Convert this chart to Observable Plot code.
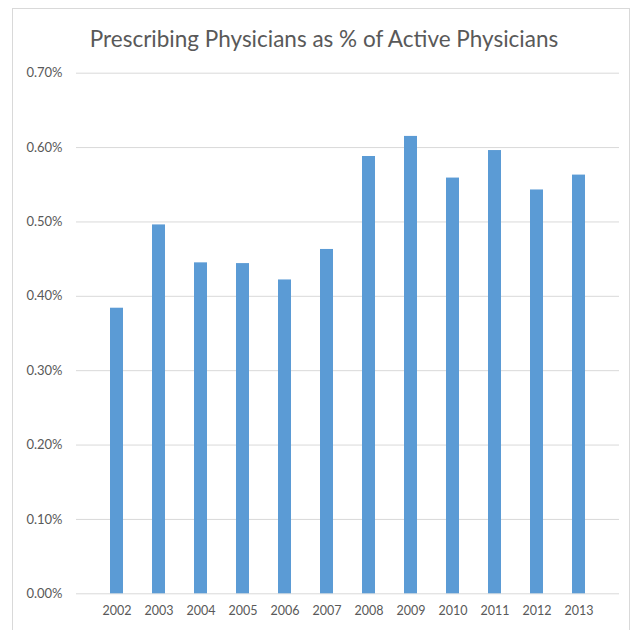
<!DOCTYPE html>
<html>
<head>
<meta charset="utf-8">
<script src="https://cdn.jsdelivr.net/npm/d3@7"></script>
<script src="https://cdn.jsdelivr.net/npm/@observablehq/plot@0.6"></script>
<style>
  html, body { margin: 0; padding: 0; background: #fff; }
  #wrap { position: relative; width: 636px; height: 630px; overflow: hidden; font-family: Lato, "Open Sans", sans-serif; }
  #frame { position: absolute; left: 12px; top: 8px; width: 618px; height: 640px; border: 1px solid #d9d9d9; box-sizing: border-box; }
  #title { position: absolute; left: 0; top: 26px; width: 648px; text-align: center; font-size: 22.5px; color: #595959; line-height: 26px; }
  #chart { position: absolute; left: 0; top: 0; }
</style>
</head>
<body>
<div id="wrap">
  <div id="frame"></div>
  <div id="title">Prescribing Physicians as % of Active Physicians</div>
  <div id="chart"></div>
</div>
<script>
const years = ["2002","2003","2004","2005","2006","2007","2008","2009","2010","2011","2012","2013"];
const values = [0.384, 0.496, 0.445, 0.444, 0.422, 0.463, 0.588, 0.615, 0.559, 0.596, 0.543, 0.563];
const yTicks = [0, 0.1, 0.2, 0.3, 0.4, 0.5, 0.6, 0.7];

const data = years.map((y, i) => ({year: y, value: values[i]}));

const chart = Plot.plot({
  width: 636,
  height: 630,
  marginLeft: 76,
  marginRight: 17,
  marginTop: 72.7,
  marginBottom: 36.7,
  style: {fontFamily: "Lato, 'Open Sans', sans-serif", fontSize: "12px", color: "#595959", background: "transparent", overflow: "visible"},
  x: {domain: years, padding: 0.69, label: null, tickSize: 0, tickPadding: 12},
  y: {domain: [0, 0.7], ticks: yTicks, label: null, tickSize: 0, tickPadding: 14, tickFormat: d => d.toFixed(2) + "%"},
  marks: [
    Plot.gridY(yTicks, {stroke: "#d9d9d9", strokeOpacity: 1, strokeWidth: 1}),
    Plot.barY(data, {x: "year", y: "value", fill: "#5b9bd5"}),
    Plot.axisX({tickSize: 0, tickPadding: 12, fill: "#595959", fontSize: 12.5}),
    Plot.axisY({ticks: yTicks, tickSize: 0, tickPadding: 14, tickFormat: d => d.toFixed(2) + "%", fill: "#595959", fontSize: 13})
  ]
});
document.getElementById("chart").appendChild(chart);
</script>
</body>
</html>
